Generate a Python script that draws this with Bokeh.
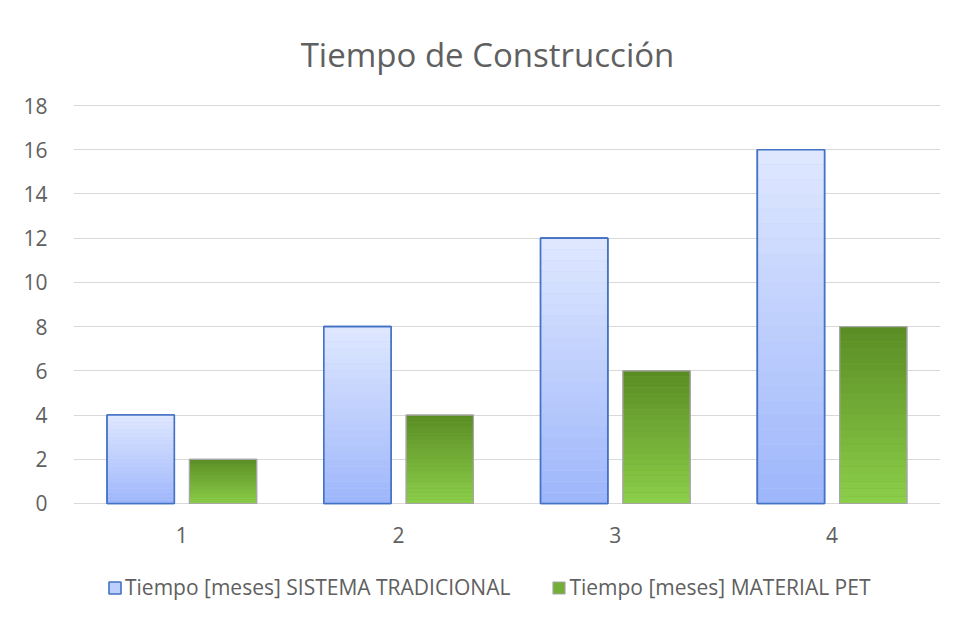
from bokeh.plotting import figure
from bokeh.models import Range1d, FixedTicker, Legend, LegendItem, Label
from bokeh.core.properties import value
from bokeh.embed import file_html
from bokeh.resources import INLINE

# ---- data ----
categories = [1, 2, 3, 4]
tick_labels = ["1", "2", "3", "4"]
tradicional = [4, 8, 12, 16]
pet = [2, 4, 6, 8]
y_ticks = [0, 2, 4, 6, 8, 10, 12, 14, 16, 18]
title_text = "Tiempo de Construcción"
series_names = ["Tiempo [meses] SISTEMA TRADICIONAL", "Tiempo [meses] MATERIAL PET"]

FONT = "Open Sans"
TXT = "#606060"
GRID = "#d9d9d9"

BAR_W = 0.31
OFFSET = 0.19

# frame covers the whole height; value axis 0..18 occupies the middle band
p = figure(width=954, height=622, x_range=Range1d(0.5, 4.5), y_range=Range1d(-5.382, 22.749),
           output_backend="svg", toolbar_location=None,
           min_border_left=73, min_border_right=14, min_border_top=0, min_border_bottom=0)
p.background_fill_color = "white"
p.border_fill_color = "white"
p.outline_line_color = None

p.xaxis.visible = False
p.yaxis.ticker = FixedTicker(ticks=y_ticks)
ax = p.yaxis[0]
ax.major_tick_line_color = None
ax.minor_tick_line_color = None
ax.axis_line_color = None
ax.major_label_text_font = FONT
ax.major_label_text_font_size = "21px"
ax.major_label_text_color = TXT
ax.major_label_standoff = 20
p.xgrid.grid_line_color = None
p.ygrid.grid_line_color = GRID
p.ygrid.grid_line_width = 1


def hex2rgb(h):
    h = h.lstrip("#")
    return [int(h[i:i + 2], 16) for i in (0, 2, 4)]


def mix(a, b, t):
    ra, rb = hex2rgb(a), hex2rgb(b)
    return "#%02x%02x%02x" % tuple(int(round(ra[i] + (rb[i] - ra[i]) * t)) for i in range(3))


def gradient_bars(xs, values, c_top, c_bot, line_color, line_width, n=24):
    base = p.vbar(x=xs, top=values, bottom=0, width=BAR_W,
                  fill_color=mix(c_top, c_bot, 0.5), line_color=line_color, line_width=line_width)
    for k in range(n):
        f0, f1 = k / n, (k + 1) / n
        col = mix(c_bot, c_top, (k + 0.5) / n)
        p.vbar(x=xs, bottom=[v * f0 for v in values], top=[v * f1 for v in values], width=BAR_W,
               fill_color=col, line_color=None)
    p.vbar(x=xs, top=values, bottom=0, width=BAR_W, fill_alpha=0,
           line_color=line_color, line_width=line_width)
    return base


x_blue = [c - OFFSET for c in categories]
x_green = [c + OFFSET for c in categories]

r1 = gradient_bars(x_blue, tradicional, "#e0e8ff", "#9db6fb", "#4472c4", 1.6)
r2 = gradient_bars(x_green, pet, "#5a8c24", "#8ccf4a", "#a6a6a6", 1.2)

# category labels under the 0 line
p.text(x=categories, y=-1.447, text=tick_labels, text_font=value(FONT), text_font_size="21px",
       text_color=TXT, text_align="center", text_baseline="middle")

legend = Legend(items=[LegendItem(label=series_names[0], renderers=[r1]),
                       LegendItem(label=series_names[1], renderers=[r2])],
                orientation="horizontal", location=(34, 21))
legend.label_text_font = FONT
legend.label_text_font_size = "21px"
legend.label_text_color = TXT
legend.border_line_color = None
legend.background_fill_alpha = 0
legend.glyph_width = 15
legend.glyph_height = 15
legend.spacing = 41
legend.label_standoff = 3
legend.padding = 0
legend.margin = 0
p.add_layout(legend)

title = Label(x=2.41, y=20.31, text=title_text, text_font=FONT, text_font_size="33px",
              text_color=TXT, text_align="center", text_baseline="middle")
p.add_layout(title)

html = file_html(p, INLINE)
open("out.html", "w").write(html)
